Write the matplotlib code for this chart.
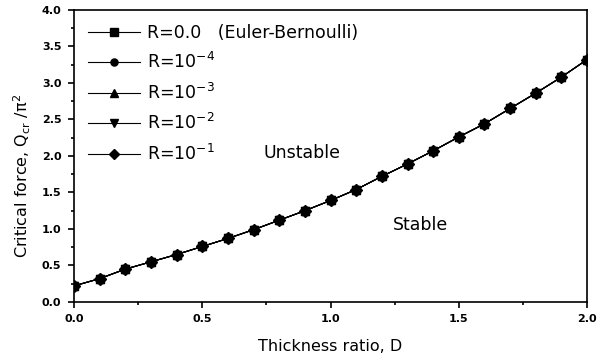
import numpy as np
import matplotlib.pyplot as plt
from matplotlib.ticker import MultipleLocator

plt.rcParams['font.family'] = ['DejaVu Sans']
plt.rcParams['mathtext.default'] = 'regular'

# thickness ratio and critical force (all R curves coincide)
D = [0.0, 0.1, 0.2, 0.3, 0.4, 0.5, 0.6, 0.7, 0.8, 0.9, 1.0,
     1.1, 1.2, 1.3, 1.4, 1.5, 1.6, 1.7, 1.8, 1.9, 2.0]
Q = [0.22, 0.32, 0.45, 0.55, 0.65, 0.76, 0.87, 0.99, 1.12, 1.25, 1.39,
     1.54, 1.72, 1.89, 2.07, 2.26, 2.44, 2.65, 2.86, 3.08, 3.32]
labels = ['R=0.0   (Euler-Bernoulli)', r'R=10$^{-4}$', r'R=10$^{-3}$',
          r'R=10$^{-2}$', r'R=10$^{-1}$']
markers = ['s', 'o', '^', 'v', 'D']

fig = plt.figure(figsize=(6.04, 3.53), dpi=100)
ax = fig.add_axes([0.1225, 0.1445, 0.8495, 0.8275])

for lab, m in zip(labels, markers):
    ax.plot(D, Q, color='black', lw=0.8, marker=m, ms=6, label=lab)

ax.set_xlim(0, 2.0)
ax.set_ylim(0, 4.0)
ax.xaxis.set_major_locator(MultipleLocator(0.5))
ax.xaxis.set_minor_locator(MultipleLocator(0.25))
ax.yaxis.set_major_locator(MultipleLocator(0.5))
ax.yaxis.set_minor_locator(MultipleLocator(0.25))
ax.tick_params(which='both', direction='out', labelsize=8, width=1.2, pad=5)
ax.tick_params(which='major', length=4)
ax.tick_params(which='minor', length=2.5)
for t in ax.get_xticklabels() + ax.get_yticklabels():
    t.set_fontweight('bold')
for s in ax.spines.values():
    s.set_linewidth(1.2)

ax.set_xlabel('Thickness ratio, D', fontsize=11.5)
ax.xaxis.set_label_coords(0.5, -0.125)
ax.set_ylabel(r'Critical force, Q$_{cr}$ /$\pi^{2}$', fontsize=11.5)
ax.yaxis.set_label_coords(-0.08, 0.43)

ax.text(0.89, 2.04, 'Unstable', fontsize=12.5, ha='center', va='center')
ax.text(1.35, 1.05, 'Stable', fontsize=12.5, ha='center', va='center')

ax.legend(loc='upper left', frameon=False, fontsize=12.5, handlelength=3.0,
          labelspacing=0.6, borderaxespad=0.4, handletextpad=0.4,
          markerscale=0.85)

fig.savefig('out.png', dpi=100)
